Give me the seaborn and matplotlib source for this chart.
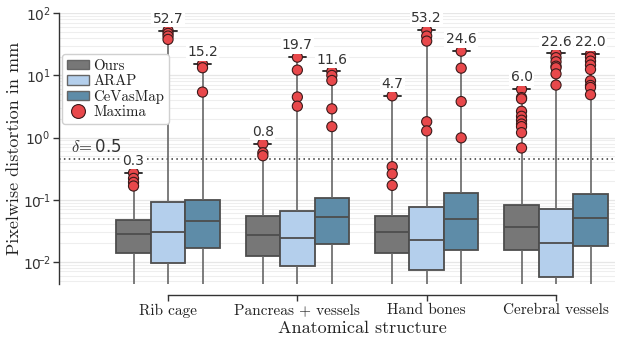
import numpy as np
import pandas as pd
import matplotlib
matplotlib.use("Agg")
import matplotlib.pyplot as plt
from matplotlib.patches import Patch
from matplotlib.lines import Line2D
from matplotlib.ticker import FuncFormatter, LogLocator
import seaborn as sns

# ---------------- data ----------------
categories = ["Rib cage", "Pancreas + vessels", "Hand bones", "Cerebral vessels"]
methods = ["Ours", "ARAP", "CeVasMap"]

# box statistics per category (rows) and method (Ours, ARAP, CeVasMap)
q1 = [[0.0140, 0.0096, 0.0169],
      [0.0125, 0.0085, 0.0196],
      [0.0141, 0.0073, 0.0155],
      [0.0155, 0.0057, 0.0177]]
median = [[0.0283, 0.0304, 0.0448],
          [0.0275, 0.0240, 0.0530],
          [0.0307, 0.0227, 0.0489],
          [0.0360, 0.0198, 0.0507]]
q3 = [[0.047, 0.091, 0.098],
      [0.0545, 0.066, 0.105],
      [0.0557, 0.0757, 0.126],
      [0.0824, 0.0704, 0.1245]]
minimum = [[0.002, 0.0015, 0.002],
           [0.002, 0.0015, 0.002],
           [0.002, 0.0015, 0.002],
           [0.002, 0.0015, 0.002]]

# largest values ("Maxima") per category / method
maxima = {
    ("Rib cage", "Ours"): [0.27, 0.22, 0.19, 0.166],
    ("Rib cage", "ARAP"): [52.7, 47.5, 43.0, 38.0],
    ("Rib cage", "CeVasMap"): [15.2, 13.3, 5.4],
    ("Pancreas + vessels", "Ours"): [0.80, 0.57, 0.51],
    ("Pancreas + vessels", "ARAP"): [19.7, 12.2, 4.5, 3.2],
    ("Pancreas + vessels", "CeVasMap"): [11.6, 10.0, 8.3, 2.9, 1.5],
    ("Hand bones", "Ours"): [4.7, 0.34, 0.26, 0.17],
    ("Hand bones", "ARAP"): [53.2, 43.0, 35.7, 1.8, 1.28],
    ("Hand bones", "CeVasMap"): [24.6, 13.1, 3.8, 0.99],
    ("Cerebral vessels", "Ours"): [6.0, 4.4, 4.2, 2.65, 2.2, 1.9, 1.65, 1.5, 1.2, 0.68],
    ("Cerebral vessels", "ARAP"): [22.6, 19.3, 16.6, 14.1, 13.3, 10.6, 7.0],
    ("Cerebral vessels", "CeVasMap"): [22.0, 19.7, 17.0, 14.7, 12.5, 8.2, 6.9, 6.4, 4.9],
}
delta = 0.45
delta_label = r"$\delta\!=$0.5"

palette = {"Ours": "#777777", "ARAP": "#b4cfec", "CeVasMap": "#5e8ca8"}
red = "#e8484b"

# ---------------- build tables ----------------
box_rows = []
for ci, cat in enumerate(categories):
    for mi, m in enumerate(methods):
        mx = max(maxima[(cat, m)])
        for v in [minimum[ci][mi], q1[ci][mi], median[ci][mi], q3[ci][mi], mx]:
            box_rows.append({"structure": cat, "method": m, "value": v})
box_df = pd.DataFrame(box_rows)

max_rows = []
for (cat, m), vals in maxima.items():
    for v in vals:
        max_rows.append({"structure": cat, "method": m, "value": v})
max_df = pd.DataFrame(max_rows)

# ---------------- plot ----------------
sns.set_theme(style="white")
plt.rcParams["font.family"] = ["DejaVu Sans"]
plt.rcParams["mathtext.fontset"] = "cm"
serif = "cmr10"

fig = plt.figure(figsize=(6.17, 3.43), dpi=100)
ax = fig.add_axes([59 / 617, 1 - 284 / 343, (615 - 59) / 617, (284 - 13.3) / 343])
ax.set_yscale("log")

sns.boxplot(data=box_df, x="structure", y="value", hue="method", order=categories,
            hue_order=methods, palette=palette, whis=np.inf, width=0.8, gap=0,
            linecolor="#4d4d4d", linewidth=1.3, showcaps=True,
            capprops={"color": "#333333", "linewidth": 1.4},
            whiskerprops={"color": "#666666", "linewidth": 1.2},
            saturation=1, legend=False, ax=ax, zorder=2)

sns.stripplot(data=max_df, x="structure", y="value", hue="method", order=categories,
              hue_order=methods, palette={m: red for m in methods}, dodge=True,
              jitter=False, size=7.3, linewidth=0.8, edgecolor="#3a1a1a",
              legend=False, ax=ax, zorder=4)

ax.set_ylim(0.0044, 100)
ax.set_xlim(-0.843, 3.456)

# annotations for the maxima
nh = len(methods)
for ci, cat in enumerate(categories):
    for mi, m in enumerate(methods):
        mx = max(maxima[(cat, m)])
        xpos = ci + (mi - (nh - 1) / 2) * 0.8 / nh
        ax.annotate(f"{mx:.1f}", (xpos, mx), xytext=(0, 3.5), textcoords="offset points",
                    ha="center", va="bottom", fontsize=10, color="#333333", zorder=6,
                    bbox=dict(boxstyle="square,pad=0.1", fc="white", ec="none"))

# delta line
ax.axhline(delta, color="#333333", linestyle=(0, (1, 2.2)), linewidth=1.1, zorder=1)
ax.annotate(delta_label, (ax.get_xlim()[0], delta), xytext=(8.5, 2.5), textcoords="offset points",
            ha="left", va="bottom", fontsize=12, color="#333333", zorder=6)

# grid
ax.grid(which="major", axis="y", color="#e6e6e6", linewidth=0.9, zorder=0)
ax.grid(which="minor", axis="y", color="#eeeeee", linewidth=0.8, zorder=0)
ax.set_axisbelow(True)

# spines
for s in ["top", "right"]:
    ax.spines[s].set_visible(False)
ax.spines["left"].set_color("#333333")
ax.spines["left"].set_linewidth(1.0)
ax.spines["bottom"].set_position(("outward", 8))
ax.spines["bottom"].set_bounds(0, len(categories) - 1)
ax.spines["bottom"].set_color("#333333")
ax.spines["bottom"].set_linewidth(1.0)


def log_label(v, pos):
    e = int(round(np.log10(v)))
    if e < 0:
        return r"$\mathdefault{10^{\!\!\!\!-\!\!%d}}$" % (-e)
    return r"$\mathdefault{10^{%d}}$" % e


ax.yaxis.set_major_locator(LogLocator(base=10, numticks=10))
ax.yaxis.set_major_formatter(FuncFormatter(log_label))
ax.tick_params(axis="y", which="major", left=True, length=4, width=1, color="#333333",
               labelsize=10, labelcolor="#333333", pad=2)
ax.tick_params(axis="y", which="minor", left=False, length=0)
ax.tick_params(axis="x", bottom=True, length=4, width=1, color="#333333", pad=2)
ax.set_xticks(range(len(categories)))
ax.set_xticklabels(categories, fontfamily=serif, fontsize=11, color="#222222")

ax.set_ylabel("Pixelwise distortion in mm", fontfamily=serif, fontsize=13, color="#222222")
ax.yaxis.set_label_coords(-0.066, 0.5)
ax.set_xlabel("Anatomical structure", fontfamily=serif, fontsize=13, color="#222222")
xl = ax.get_xlim()
ax.xaxis.set_label_coords((1.5 - xl[0]) / (xl[1] - xl[0]), -0.137)

# legend
handles = [Patch(facecolor=palette[m], edgecolor="#666666", linewidth=1.0, label=m)
           for m in methods]
handles.append(Line2D([], [], marker="o", linestyle="none", markersize=10,
                      markerfacecolor=red, markeredgecolor="#3a1a1a", markeredgewidth=0.8,
                      label="Maxima"))
leg = ax.legend(handles=handles, loc="upper left", bbox_to_anchor=(0.006, 0.848),
                prop={"family": serif, "size": 10.7}, frameon=True, fancybox=True,
                edgecolor="#d0d0d0", framealpha=1, handlelength=1.5, handleheight=0.6,
                handletextpad=0.3, labelspacing=0.12, borderpad=0.3, borderaxespad=0)
for t in leg.get_texts():
    t.set_color("#222222")

fig.savefig("out.png", dpi=100)
